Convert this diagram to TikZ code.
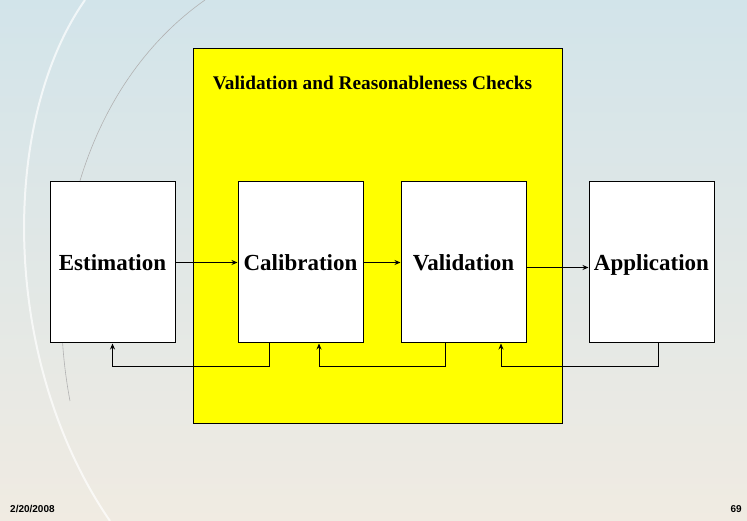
\documentclass[tikz,border=0pt]{standalone}
\usepackage{fontspec}
\setmainfont{Liberation Serif}
\newfontfamily\footfont{Liberation Sans}
\usepackage{tikz}
\usetikzlibrary{arrows.meta,positioning,calc}

\definecolor{skytop}{RGB}{210,228,234}
\definecolor{creammid}{RGB}{241,239,231}
\definecolor{beigebot}{RGB}{240,235,226}
\definecolor{checkyellow}{RGB}{255,255,0}

\begin{document}
\begin{tikzpicture}[
  x=1pt, y=1pt,
  >=Stealth,
  stepbox/.style={rectangle, draw, fill=white, line width=1pt,
    minimum height=161pt, minimum width=125pt, inner sep=0pt,
    text height=21pt, text depth=4pt,
    font=\fontsize{23}{25}\selectfont\bfseries},
  arr/.style={->, line width=0.9pt, >={Stealth[length=6pt,width=5pt]}},
  footnote/.style={inner sep=0pt, font=\footfont\fontsize{10}{11}\selectfont\bfseries},
]

% Background
\shade[top color=skytop, middle color=creammid, bottom color=beigebot]
  (0,0) rectangle (747,521);
\useasboundingbox (0,0) rectangle (747,521);
\draw[white, line width=2pt, opacity=0.7]
  (85,521) .. controls (0,400) and (0,160) .. (110,0);
\draw[gray!60, line width=0.6pt]
  (205,521) .. controls (90,440) and (40,280) .. (70,120);

% Yellow frame
\node[draw, fill=checkyellow, line width=1pt, minimum width=369pt,
  minimum height=375pt, inner sep=0pt] (checks) at (377.5,284.5) {};
\node[font=\fontsize{19.3}{21}\selectfont\bfseries] (title) at (372.5,438)
  {Validation and Reasonableness Checks};

% Steps
\node[stepbox] (est) at (112.5,258.5) {Estimation};
\node[stepbox, right=62pt of est] (cal) {Calibration};
\node[stepbox, right=37pt of cal] (val) {Validation};
\node[stepbox, right=62pt of val] (app) {Application};

% Forward arrows
\draw[arr] (est) -- (cal);
\draw[arr] (cal) -- (val);
\draw[arr] ([yshift=-5pt]val.east) -- ([yshift=-5pt]app.west);

% Feedback arrows
\draw[arr] ([xshift=-31pt]cal.south) -- ++(0,-23) -| (est.south);
\draw[arr] ([xshift=-18pt]val.south) -- ++(0,-23) -| ([xshift=18.5pt]cal.south);
\draw[arr] ([xshift=6.5pt]app.south) -- ++(0,-23) -| ([xshift=37.5pt]val.south);

% Footer
\node[footnote, anchor=base west] (date) at (10,8) {2/20/2008};
\node[footnote, anchor=base east] (page) at (742,8) {69};

\end{tikzpicture}
\end{document}
